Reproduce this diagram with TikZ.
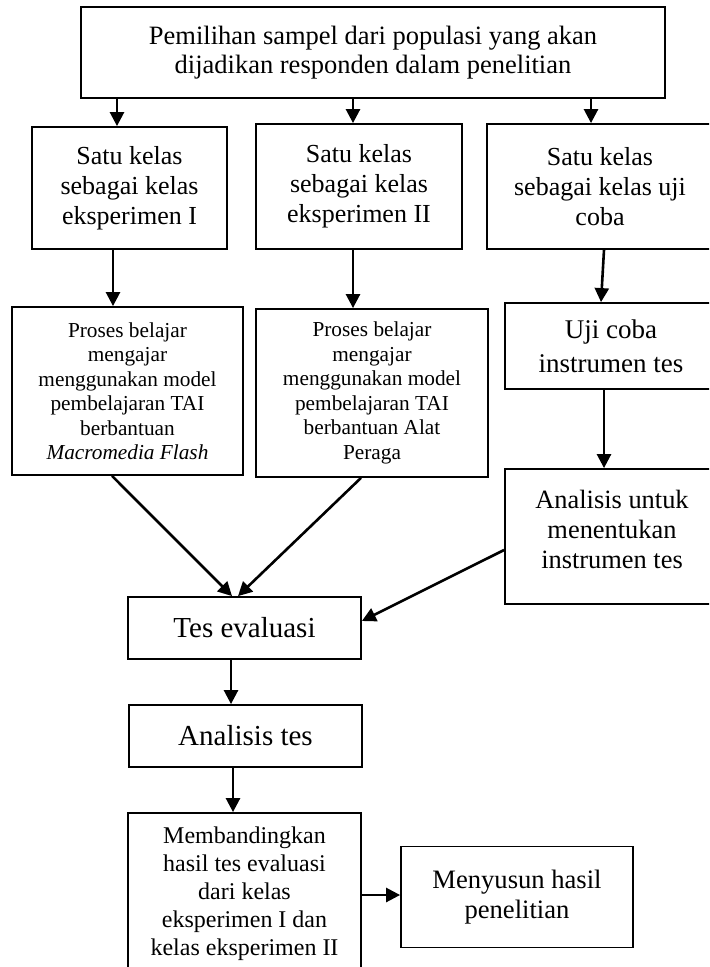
\documentclass[tikz,border=0pt]{standalone}
\usepackage{fontspec}
\setmainfont{Liberation Serif}
\usetikzlibrary{arrows.meta,calc}
\newcommand{\fs}[2]{\fontsize{#1}{#2}\selectfont}
\newcommand{\panah}[2]{\draw[line width=1.3pt,-{Triangle[width=7pt,length=7pt]}] (#1) -- (#2)}
\tikzset{kotak/.style={draw,line width=0.9pt,align=center,inner sep=0pt}}

\begin{document}
\begin{tikzpicture}[x=0.5pt,y=-0.5pt]
	\clip (0,0) rectangle (709,967);
%The sample
	\node[kotak,minimum width=292pt,minimum height=45.5pt,font=\fs{13.25}{14.5}] (top) at (373,52.5)
		{Pemilihan sampel dari populasi yang akan\\dijadikan responden dalam penelitian};
%The three classes
	\node[kotak,minimum width=97.5pt,minimum height=61pt,font=\fs{13}{15}] (k1) at (129.5,188)
		{Satu kelas\\sebagai kelas\\eksperimen I};
	\node[kotak,minimum width=103pt,minimum height=62.5pt,font=\fs{13}{15}] (k2) at (359,186.5)
		{Satu kelas\\sebagai kelas\\eksperimen II};
	\node[kotak,minimum width=113pt,minimum height=62.5pt,font=\fs{13}{15}] (k3) at (600,186.5)
		{Satu kelas\\sebagai kelas uji\\coba};
	\panah{$(top.south)+(-256,0)$}{$(k1.north)+(-12.5,0)$};
	\panah{$(top.south)+(-20,0)$}{$(k2.north)+(-6,0)$};
	\panah{$(top.south)+(218,0)$}{$(k3.north)+(-9,0)$};
%The learning processes
	\node[kotak,minimum width=115.5pt,minimum height=84pt,font=\fs{10.65}{12.25}] (p1) at (127.5,391)
		{Proses belajar\\mengajar\\menggunakan model\\pembelajaran TAI\\berbantuan\\\textit{Macromedia Flash}};
	\node[kotak,minimum width=116pt,minimum height=84pt,font=\fs{10.65}{12.25}] (p2) at (372,393)
		{Proses belajar\\mengajar\\menggunakan model\\pembelajaran TAI\\berbantuan Alat\\Peraga};
	\panah{$(k1.south)+(-16.5,0)$}{$(p1.north)+(-14.5,0)$};
	\panah{$(k2.south)+(-6,0)$}{$(p2.north)+(-19,0)$};
%The trial class
	\node[kotak,minimum width=106pt,minimum height=43pt,font=\fs{13.5}{17}] (uji) at (611,346)
		{Uji coba\\instrumen tes};
	\node[kotak,minimum width=107pt,minimum height=67.5pt,font=\fs{13.2}{15}] (ana) at (612,536.5)
		{Analisis untuk\\menentukan\\instrumen tes\\[-8pt]\mbox{}};
	\panah{$(k3.south)+(4,0)$}{$(uji.north)+(-10,0)$};
	\panah{$(uji.south)+(-7,0)$}{$(ana.north)+(-8,0)$};
%The evaluation
	\node[kotak,minimum width=116.5pt,minimum height=31pt,font=\fs{14.5}{16}] (tes) at (244.5,628)
		{Tes evaluasi};
	\node[kotak,minimum width=116.5pt,minimum height=31pt,font=\fs{14.5}{16}] (atest) at (245.5,736)
		{Analisis tes};
	\node[kotak,minimum width=116.5pt,minimum height=81pt,font=\fs{12}{14}] (band) at (244.5,894)
		{Membandingkan\\hasil tes evaluasi\\dari kelas\\eksperimen I dan\\kelas eksperimen II};
	\node[kotak,minimum width=116pt,minimum height=50.5pt,font=\fs{13.3}{15}] (susun) at (517,897)
		{Menyusun hasil\\penelitian};
	\panah{$(p1.south)+(-15.5,0)$}{$(tes.north)+(-12.5,0)$};
	\panah{$(p2.south)+(-11,0)$}{$(tes.north)+(-6.5,0)$};
	\panah{$(ana.west)+(0,13.5)$}{$(tes.east)+(0,-7)$};
	\panah{$(tes.south)+(-13.5,0)$}{$(atest.north)+(-14.5,0)$};
	\panah{$(atest.south)+(-12.5,0)$}{$(band.north)+(-11.5,0)$};
	\panah{$(band.east)+(0,1)$}{$(susun.west)+(0,-2)$};
\end{tikzpicture}
\end{document}
